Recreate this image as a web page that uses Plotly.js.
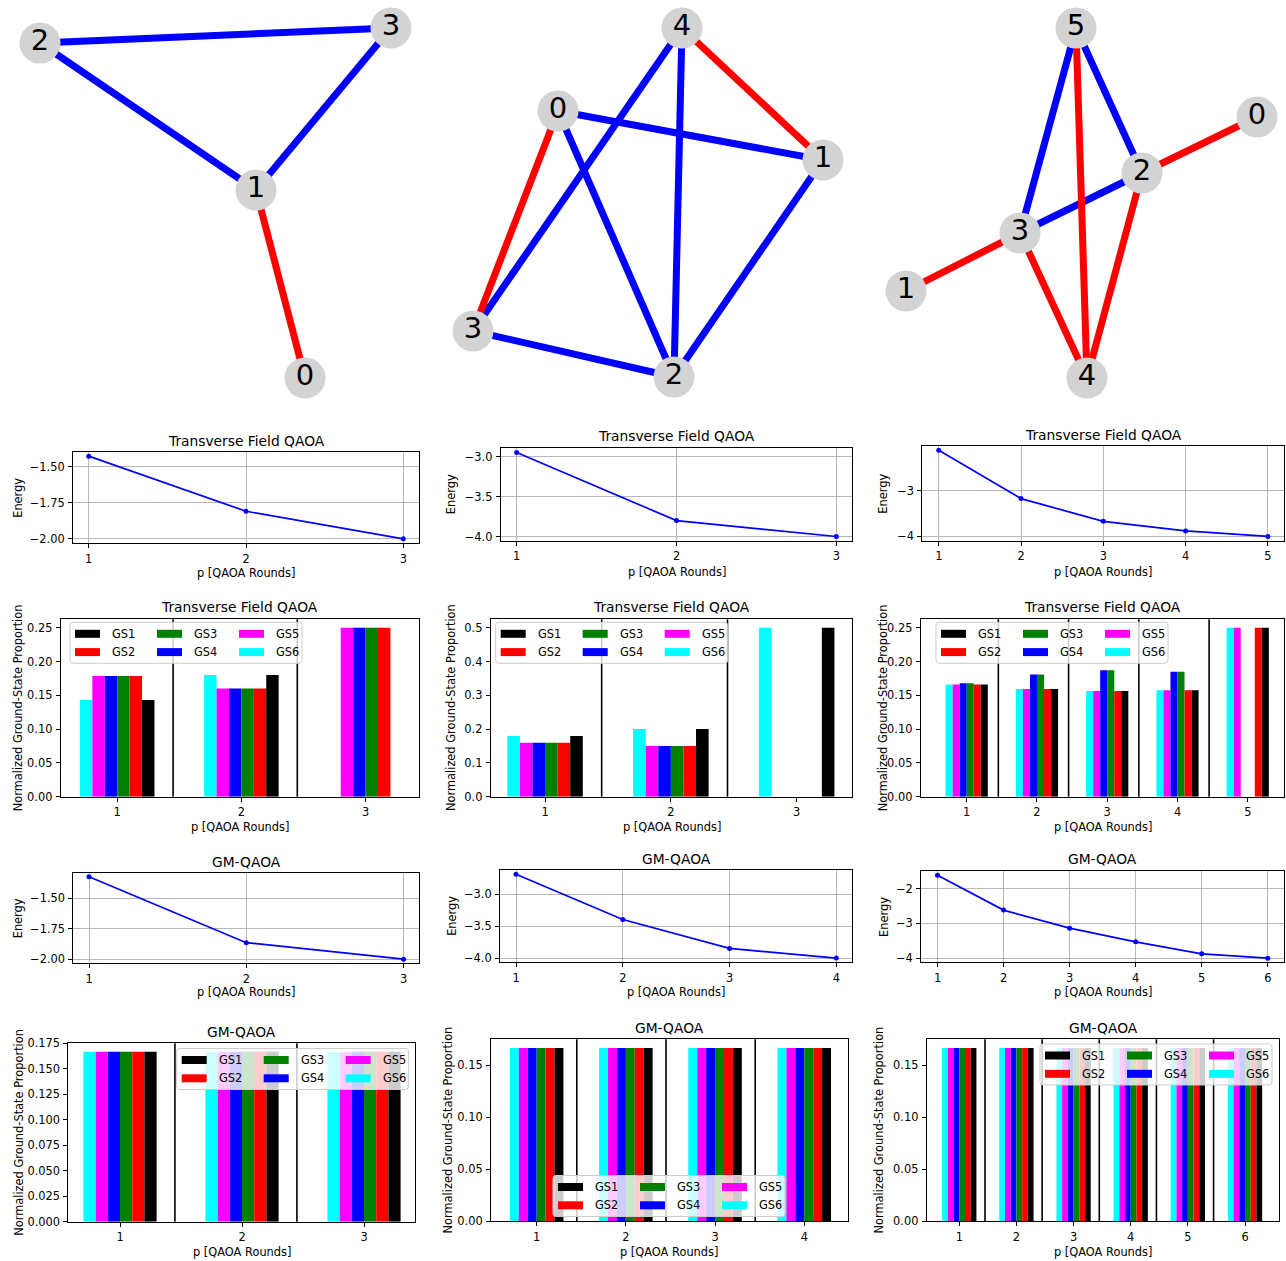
<!DOCTYPE html>
<html><head><meta charset="utf-8">
<script src="https://cdn.plot.ly/plotly-3.0.1.min.js"></script>
<style>body{margin:0;background:#fff}#chart{width:1286px;height:1261px}</style>
</head><body><div id="chart"></div>
<script>
// ================= DATA =================
// Graph drawings (node layout positions, edges, edge type b=blue / r=red)
const graph1Labels = ['0','1','2','3'];
const graph1X = [305,256,40,391];
const graph1Y = [378,190,43,28];
const graph1Edges = [[2,3],[2,1],[3,1],[1,0]];
const graph1EdgeType = ['b','b','b','r'];

const graph2Labels = ['0','1','2','3','4'];
const graph2X = [558,823,674,473,682];
const graph2Y = [111,160,377,331,28];
const graph2Edges = [[4,1],[4,3],[4,2],[0,1],[0,3],[0,2],[3,2],[1,2]];
const graph2EdgeType = ['r','b','b','b','r','b','b','b'];

const graph3Labels = ['0','1','2','3','4','5'];
const graph3X = [1257,906,1142,1020,1087,1076];
const graph3Y = [117,291,173,233,378,28];
const graph3Edges = [[5,2],[5,3],[5,4],[0,2],[2,3],[2,4],[3,1],[3,4]];
const graph3EdgeType = ['b','b','r','r','b','r','r','r'];

const stateNames = ['GS1','GS2','GS3','GS4','GS5','GS6'];

// Transverse Field QAOA energies
const tf1Rounds = [1,2,3];
const tf1Energy = [-1.425,-1.808,-2.0];
const tf2Rounds = [1,2,3];
const tf2Energy = [-2.945,-3.80,-4.0];
const tf3Rounds = [1,2,3,4,5];
const tf3Energy = [-2.11,-3.17,-3.67,-3.88,-4.0];

// Transverse Field QAOA ground-state proportions (rows GS1..GS6)
const tf1Props = [
  [0.143,0.180,0.000],
  [0.1786,0.160,0.250],
  [0.1786,0.160,0.250],
  [0.1786,0.160,0.250],
  [0.1786,0.160,0.250],
  [0.143,0.180,0.000]
];
const tf2Props = [
  [0.18,0.20,0.50],
  [0.16,0.15,0.00],
  [0.16,0.15,0.00],
  [0.16,0.15,0.00],
  [0.16,0.15,0.00],
  [0.18,0.20,0.50]
];
const tf3Props = [
  [0.166,0.1595,0.1565,0.1575,0.25],
  [0.166,0.1595,0.1565,0.1575,0.25],
  [0.168,0.181,0.187,0.185,0.00],
  [0.168,0.181,0.187,0.185,0.00],
  [0.166,0.1595,0.1565,0.1575,0.25],
  [0.166,0.1595,0.1565,0.1575,0.25]
];

// GM-QAOA energies
const gm1Rounds = [1,2,3];
const gm1Energy = [-1.322,-1.864,-2.0];
const gm2Rounds = [1,2,3,4];
const gm2Energy = [-2.684,-3.395,-3.848,-4.0];
const gm3Rounds = [1,2,3,4,5,6];
const gm3Energy = [-1.605,-2.614,-3.135,-3.53,-3.876,-4.0];

// GM-QAOA ground-state proportions (rows GS1..GS6)
const gm1Props = [
  [0.1667,0.1667,0.1667],[0.1667,0.1667,0.1667],[0.1667,0.1667,0.1667],
  [0.1667,0.1667,0.1667],[0.1667,0.1667,0.1667],[0.1667,0.1667,0.1667]
];
const gm2Props = [
  [0.1667,0.1667,0.1667,0.1667],[0.1667,0.1667,0.1667,0.1667],[0.1667,0.1667,0.1667,0.1667],
  [0.1667,0.1667,0.1667,0.1667],[0.1667,0.1667,0.1667,0.1667],[0.1667,0.1667,0.1667,0.1667]
];
const gm3Props = [
  [0.1667,0.1667,0.1667,0.1667,0.1667,0.1667],[0.1667,0.1667,0.1667,0.1667,0.1667,0.1667],
  [0.1667,0.1667,0.1667,0.1667,0.1667,0.1667],[0.1667,0.1667,0.1667,0.1667,0.1667,0.1667],
  [0.1667,0.1667,0.1667,0.1667,0.1667,0.1667],[0.1667,0.1667,0.1667,0.1667,0.1667,0.1667]
];

// Tick labels
const tf1EnergyTicks = [-2.00,-1.75,-1.50];
const tf2EnergyTicks = [-4.0,-3.5,-3.0];
const tf3EnergyTicks = [-4,-3];
const gm1EnergyTicks = [-2.00,-1.75,-1.50];
const gm2EnergyTicks = [-4.0,-3.5,-3.0];
const gm3EnergyTicks = [-4,-3,-2];
const tfPropTicksA = [0,0.05,0.10,0.15,0.20,0.25];
const tfPropTicksB = [0,0.1,0.2,0.3,0.4,0.5];
const gmPropTicksA = [0,0.025,0.05,0.075,0.1,0.125,0.15,0.175];
const gmPropTicksB = [0,0.05,0.10,0.15];

const tfTitle = 'Transverse Field QAOA';
const gmTitle = 'GM-QAOA';
const xTitle = 'p [QAOA Rounds]';
const energyTitle = 'Energy';
const propTitle = 'Normalized Ground-State Proportion';

// ================= STYLE / LAYOUT =================
const W = 1286, H = 1261;
const FONT = 'DejaVu Sans, sans-serif';
const fx = p => p / W;
const fy = p => 1 - p / H;
const edgeColor = {b:'#0000ff', r:'#ff0000'};
const stateColors = ['#000000','#ff0000','#008000','#0000ff','#ff00ff','#00ffff'];
const TICK = 11.4, TITLE = 13.8;

const traces = [];
const layout = {
  width: W, height: H, margin:{l:0,r:0,t:0,b:0},
  paper_bgcolor:'white', plot_bgcolor:'white', showlegend:false,
  font:{family:FONT, color:'black', size:TICK},
  barmode:'group', bargap:0.4, bargroupgap:0,
  shapes:[], annotations:[]
};

// ---- network drawings (one hidden axis across top row) ----
layout.xaxis = {domain:[0,1], range:[0,W], visible:false, fixedrange:true};
layout.yaxis = {domain:[fy(410),1], range:[410,0], visible:false, fixedrange:true};
function addGraph(labels, X, Y, edges, types){
  ['b','r'].forEach(t => {
    const ex = [], ey = [];
    edges.forEach((e,i) => {
      if (types[i] !== t) return;
      ex.push(X[e[0]], X[e[1]], null);
      ey.push(Y[e[0]], Y[e[1]], null);
    });
    if (ex.length) traces.push({type:'scatter', mode:'lines', x:ex, y:ey, xaxis:'x', yaxis:'y',
      line:{color:edgeColor[t], width:7}, hoverinfo:'skip', cliponaxis:false});
  });
  traces.push({type:'scatter', mode:'markers+text', x:X, y:Y, text:labels, xaxis:'x', yaxis:'y',
    marker:{size:41, color:'#d3d3d3', line:{width:0}}, textposition:'middle center',
    textfont:{size:29, family:FONT, color:'black'}, hoverinfo:'skip', cliponaxis:false});
}
addGraph(graph1Labels, graph1X, graph1Y, graph1Edges, graph1EdgeType);
addGraph(graph2Labels, graph2X, graph2Y, graph2Edges, graph2EdgeType);
addGraph(graph3Labels, graph3X, graph3Y, graph3Edges, graph3EdgeType);

// ---- panels ----
function baseAxis(){
  return {showline:true, mirror:true, linecolor:'black', linewidth:1,
    ticks:'outside', ticklen:4, tickwidth:1, tickcolor:'black', zeroline:false,
    ticklabelstandoff:1,
    tickfont:{size:TICK, family:FONT, color:'black'}, fixedrange:true};
}
function ann(text, x, y, opts){
  layout.annotations.push(Object.assign({text, xref:'paper', yref:'paper', x, y,
    xanchor:'center', yanchor:'middle', showarrow:false,
    font:{size:TICK, family:FONT, color:'black'}}, opts||{}));
}
function panelFrame(id, box, title, titleY, yTitle, yTitleX, xTitleY){
  const [x0,x1,y0,y1] = box;
  ann(title, fx((x0+x1)/2), fy(titleY), {font:{size:TITLE, family:FONT, color:'black'}});
  ann(xTitle, fx((x0+x1)/2), fy(xTitleY));
  ann(yTitle, fx(yTitleX), fy((y0+y1)/2), {textangle:-90});
}
function linePanel(id, box, rounds, energy, yticks, yfmt, title, titleY, yTitleX, xTitleY){
  const [x0,x1,y0,y1] = box;
  const n = rounds.length;
  const xs = (rounds[n-1]-rounds[0])*0.05;
  const mn = Math.min(...energy), mx = Math.max(...energy), ys = (mx-mn)*0.05;
  const xa = baseAxis(), ya = baseAxis();
  Object.assign(xa, {domain:[fx(x0),fx(x1)], range:[rounds[0]-xs, rounds[n-1]+xs], anchor:'y'+id,
    tickvals:rounds, showgrid:true, gridcolor:'#b0b0b0', gridwidth:0.9});
  Object.assign(ya, {domain:[fy(y1),fy(y0)], range:[mn-ys, mx+ys], anchor:'x'+id,
    tickvals:yticks, tickformat:yfmt, showgrid:true, gridcolor:'#b0b0b0', gridwidth:0.9});
  layout['xaxis'+id] = xa; layout['yaxis'+id] = ya;
  traces.push({type:'scatter', mode:'lines+markers', x:rounds, y:energy, xaxis:'x'+id, yaxis:'y'+id,
    line:{color:'#0000ff', width:1.7}, marker:{color:'#0000ff', size:5}, hoverinfo:'skip'});
  panelFrame(id, box, title, titleY, energyTitle, yTitleX, xTitleY);
}
function roundedRect(x0, y0, x1, y1, r){
  // pixel coords -> paper path with rounded corners
  const X = v => fx(v).toFixed(6), Y = v => fy(v).toFixed(6);
  return 'M' + X(x0+r) + ',' + Y(y0) + ' L' + X(x1-r) + ',' + Y(y0) +
    ' Q' + X(x1) + ',' + Y(y0) + ' ' + X(x1) + ',' + Y(y0+r) +
    ' L' + X(x1) + ',' + Y(y1-r) + ' Q' + X(x1) + ',' + Y(y1) + ' ' + X(x1-r) + ',' + Y(y1) +
    ' L' + X(x0+r) + ',' + Y(y1) + ' Q' + X(x0) + ',' + Y(y1) + ' ' + X(x0) + ',' + Y(y1-r) +
    ' L' + X(x0) + ',' + Y(y0+r) + ' Q' + X(x0) + ',' + Y(y0) + ' ' + X(x0+r) + ',' + Y(y0) + ' Z';
}
function barPanel(id, box, rounds, props, xr, yticks, yfmt, title, titleY, yTitleX, xTitleY, legPos){
  const [x0,x1,y0,y1] = box;
  let mx = 0; props.forEach(r => r.forEach(v => { if (v > mx) mx = v; }));
  const xa = baseAxis(), ya = baseAxis();
  Object.assign(xa, {domain:[fx(x0),fx(x1)], range:xr, anchor:'y'+id, tickvals:rounds, showgrid:false});
  Object.assign(ya, {domain:[fy(y1),fy(y0)], range:[0, mx*1.05], anchor:'x'+id,
    tickvals:yticks, tickformat:yfmt, showgrid:false});
  layout['xaxis'+id] = xa; layout['yaxis'+id] = ya;
  for (let s = stateNames.length-1; s >= 0; s--){
    traces.push({type:'bar', x:rounds, y:props[s], name:stateNames[s], xaxis:'x'+id, yaxis:'y'+id,
      marker:{color:stateColors[s], line:{width:0}}, hoverinfo:'skip'});
  }
  // separators between rounds
  rounds.slice(0,-1).forEach(r => {
    layout.shapes.push({type:'line', xref:'x'+id, yref:'y'+id+' domain', x0:r+0.45, x1:r+0.45, y0:0, y1:1,
      line:{color:'black', width:1.6}, layer:'above'});
  });
  panelFrame(id, box, title, titleY, propTitle, yTitleX, xTitleY);
  // legend (3 columns x 2 rows, column-major)
  const [L,T] = legPos;
  layout.shapes.push({type:'path', xref:'paper', yref:'paper', path:roundedRect(L, T, L+232, T+41, 3),
    fillcolor:'rgba(255,255,255,0.8)', line:{color:'#cccccc', width:1}, layer:'above'});
  stateNames.forEach((nm,i) => {
    const col = Math.floor(i/2), row = i%2;
    const cy = T + 11.5 + 18.3*row;
    const sx = L + 5 + 82*col;
    layout.shapes.push({type:'rect', xref:'paper', yref:'paper', x0:fx(sx), x1:fx(sx+25), y0:fy(cy+4), y1:fy(cy-4),
      fillcolor:stateColors[i], line:{width:0}, layer:'above'});
    ann(nm, fx(sx+35), fy(cy), {xanchor:'left'});
  });
}

linePanel(2, [73,419,452,543], tf1Rounds, tf1Energy, tf1EnergyTicks, '.2f', tfTitle, 441, 18.3, 572.7);
linePanel(3, [500.7,852.3,448.3,540.7], tf2Rounds, tf2Energy, tf2EnergyTicks, '.1f', tfTitle, 436, 451.7, 571.7);
linePanel(4, [922.3,1284.3,446,540.7], tf3Rounds, tf3Energy, tf3EnergyTicks, 'd', tfTitle, 435, 883.3, 571.7);

barPanel(5, [60.7,419,619.3,796.7], tf1Rounds, tf1Props, [0.545,3.43], tfPropTicksA, '.2f', tfTitle, 606.7, 18.3, 827.3, [70,622.3]);
barPanel(6, [490.7,852.3,619.3,796.7], tf2Rounds, tf2Props, [0.568,3.442], tfPropTicksB, '.1f', tfTitle, 606.7, 451, 827.3, [495.7,622.3]);
barPanel(7, [920.7,1284.3,619.3,796.7], tf3Rounds, tf3Props, [0.345,5.52], tfPropTicksA, '.2f', tfTitle, 606.7, 883.3, 827.3, [936,622.3]);

linePanel(8, [73.3,419.3,872.7,963.3], gm1Rounds, gm1Energy, gm1EnergyTicks, '.2f', gmTitle, 862.3, 18.3, 991.7);
linePanel(9, [500,852.3,870,962.3], gm2Rounds, gm2Energy, gm2EnergyTicks, '.1f', gmTitle, 859, 451.7, 991.7);
linePanel(10, [921,1284.3,871,962.3], gm3Rounds, gm3Energy, gm3EnergyTicks, 'd', gmTitle, 859, 883.3, 991.7);

barPanel(11, [68.3,415,1043.3,1221.7], gm1Rounds, gm1Props, [0.576,3.418], gmPropTicksA, '.3f', gmTitle, 1031.7, 18.3, 1252.3, [176.7,1048.5]);
barPanel(12, [491,847.7,1039.3,1221], gm2Rounds, gm2Props, [0.488,4.487], gmPropTicksB, '.2f', gmTitle, 1028.3, 448.3, 1252.3, [553,1175.5]);
barPanel(13, [926.7,1279.3,1039.3,1221], gm3Rounds, gm3Props, [0.43,6.6], gmPropTicksB, '.2f', gmTitle, 1028.3, 879.3, 1252.3, [1040,1044]);

Plotly.newPlot('chart', traces, layout, {staticPlot:true, displayModeBar:false});
</script>
</body></html>
